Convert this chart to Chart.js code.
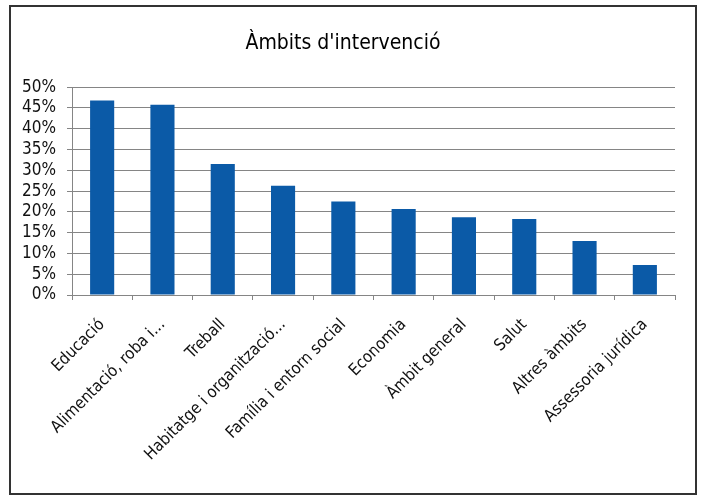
<!DOCTYPE html>
<html>
<head>
<meta charset="utf-8">
<script src="https://cdn.jsdelivr.net/npm/chart.js@4.4.0/dist/chart.umd.min.js"></script>
<style>
  html, body { margin: 0; padding: 0; background: #fff; }
  #frame {
    position: absolute;
    left: 9px; top: 5px;
    width: 688px; height: 490px;
    box-sizing: border-box;
    border: 2px solid #333;
    background: #fff;
  }
  #chart { display: block; }
</style>
</head>
<body>
<div id="frame"><canvas id="chart" width="684" height="486"></canvas></div>
<script>
const categories = [
  'Educació',
  'Alimentació, roba i...',
  'Treball',
  'Habitatge i organització...',
  'Família i entorn social',
  'Economia',
  'Àmbit general',
  'Salut',
  'Altres àmbits',
  'Assessoria jurídica'
]
const shares = [46.8, 45.8, 31.5, 26.3, 22.5, 20.7, 18.7, 18.3, 13.0, 7.2]
const yTicks = [0, 5, 10, 15, 20, 25, 30, 35, 40, 45, 50]

const fontFamily = '"Liberation Sans Narrow", "DejaVu Sans Condensed", "Liberation Sans", sans-serif'
const gridColor = '#858585'

new Chart(document.getElementById('chart'), {
  type: 'bar',
  data: {
    labels: categories,
    datasets: [{
      data: shares,
      backgroundColor: '#0b5aa7',
      borderWidth: 0,
      barPercentage: 0.4,
      categoryPercentage: 1
    }]
  },
  options: {
    responsive: false,
    animation: false,
    layout: { padding: { left: 0, right: 20, top: 0, bottom: 0 } },
    plugins: {
      legend: { display: false },
      tooltip: { enabled: false },
      title: {
        display: true,
        text: "Àmbits d'intervenció",
        color: '#000',
        font: { family: fontFamily, size: 21, weight: 'normal' },
        padding: { top: 24, bottom: 31 }
      }
    },
    scales: {
      x: {
        grid: {
          display: true,
          drawOnChartArea: false,
          offset: true,
          color: gridColor,
          tickLength: 5
        },
        border: { color: gridColor },
        ticks: {
          color: '#111',
          font: { family: fontFamily, size: 16.5 },
          minRotation: 45,
          maxRotation: 45,
          autoSkip: false,
          padding: 15
        },
        afterFit: scale => { scale.height = 198 }
      },
      y: {
        min: 0,
        max: 50,
        afterBuildTicks: scale => { scale.ticks = yTicks.map(v => ({ value: v })) },
        grid: { color: gridColor, tickLength: 5 },
        border: { color: gridColor },
        ticks: {
          color: '#111',
          font: { family: fontFamily, size: 17 },
          autoSkip: false,
          padding: 11,
          callback: v => v + '%'
        },
        afterFit: scale => { scale.width = 61 }
      }
    }
  }
})
</script>
</body>
</html>
